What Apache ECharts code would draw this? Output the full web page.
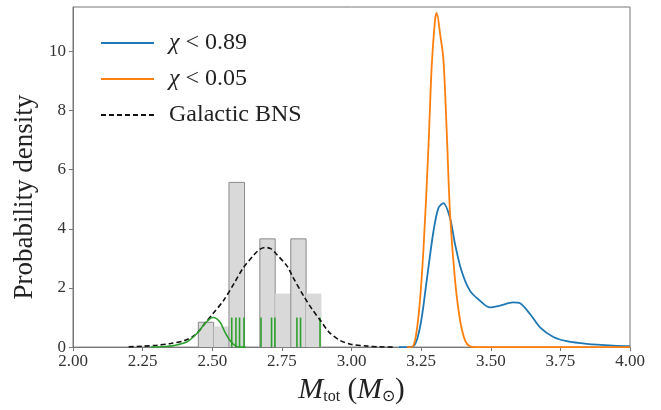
<!DOCTYPE html>
<html>
<head>
<meta charset="utf-8">
<script src="https://cdn.jsdelivr.net/npm/echarts@6/dist/echarts.min.js"></script>
<style>html,body{margin:0;padding:0;background:#fff}#c{width:661px;height:410px}</style>
</head>
<body>
<div id="c"></div>
<script>
// ---- data ----
const xTicks = [2.00, 2.25, 2.50, 2.75, 3.00, 3.25, 3.50, 3.75, 4.00];
const yTicks = [0, 2, 4, 6, 8, 10];

const blueX = [3.17, 3.22, 3.246, 3.27, 3.294, 3.312, 3.33, 3.354, 3.372, 3.395, 3.425, 3.461, 3.497, 3.533, 3.58, 3.605, 3.641, 3.677, 3.725, 3.773, 3.845, 3.94, 4.0];
const blueY = [0, 0.02, 0.67, 2.25, 3.9, 4.7, 4.87, 4.36, 3.47, 2.58, 1.91, 1.57, 1.34, 1.40, 1.51, 1.48, 1.12, 0.67, 0.34, 0.2, 0.11, 0.05, 0.03];

const orangeX = [3.20, 3.22, 3.24, 3.258, 3.276, 3.288, 3.300, 3.306, 3.318, 3.330, 3.342, 3.354, 3.372, 3.390, 3.408, 3.425, 3.45, 3.6, 3.8, 4.0];
const orangeY = [0, 0.02, 1.0, 3.24, 6.7, 9.5, 11.07, 11.3, 10.6, 9.73, 7.27, 4.47, 2.24, 0.9, 0.22, 0.03, 0, 0, 0, 0];

const bnsX = [2.20, 2.25, 2.30, 2.35, 2.40, 2.44, 2.47, 2.50, 2.54, 2.58, 2.61, 2.65, 2.67, 2.69, 2.71, 2.73, 2.77, 2.79, 2.83, 2.86, 2.89, 2.92, 2.96, 3.00, 3.05, 3.10, 3.15];
const bnsY = [0.01, 0.03, 0.06, 0.12, 0.22, 0.42, 0.76, 1.10, 1.57, 2.18, 2.66, 3.12, 3.30, 3.37, 3.33, 3.15, 2.72, 2.36, 1.70, 1.26, 0.88, 0.50, 0.22, 0.09, 0.04, 0.01, 0.0];

const greenX = [2.28, 2.33, 2.36, 2.408, 2.444, 2.468, 2.49, 2.504, 2.528, 2.546, 2.564, 2.582, 2.60, 2.62];
const greenY = [0, 0.02, 0.05, 0.17, 0.45, 0.73, 0.95, 1.0, 0.84, 0.5, 0.22, 0.05, 0.0, 0.0];

const binEdges = [2.450, 2.505, 2.560, 2.616, 2.671, 2.726, 2.782, 2.837, 2.892];
const binHeights = [0.84, 0.70, 5.57, 0, 3.66, 1.81, 3.66, 1.81];
const binOutlined = [1, 0, 1, 0, 1, 0, 1, 0];

const rugX = [2.570, 2.585, 2.598, 2.614, 2.675, 2.713, 2.725, 2.804, 2.817, 2.887];
const rugHeight = [1.0];

const names = ['χ < 0.89', 'χ < 0.05', 'Galactic BNS'];
// ---- chart ----
const pairs = (xs, ys) => xs.map((x, i) => [x, ys[i]]);
const serif = 'Liberation Serif';

const histData = binHeights.map((h, i) => [binEdges[i], binEdges[i + 1], h, binOutlined[i]]);
const rugData = rugX.map(x => [x, rugHeight[0]]);

const chart = echarts.init(document.getElementById('c'), null, {renderer: 'canvas'});
chart.setOption({
  animation: false,
  backgroundColor: '#fff',
  grid: {left: 73, right: 31, top: 7, bottom: 60, show: true, borderColor: '#777', borderWidth: 1, backgroundColor: 'transparent'},
  legend: {
    data: names.map(n => ({name: n})),
    itemStyle: {opacity: 0},
    orient: 'vertical', left: 95, top: 26,
    itemWidth: 53, itemHeight: 20, itemGap: 12,
    formatter: n => n.startsWith('χ') ? '{i|χ}' + n.slice(1) : n,
    textStyle: {fontFamily: serif, fontSize: 24, color: '#222', padding: [0, 0, 0, 10],
      rich: {i: {fontFamily: serif, fontStyle: 'italic', fontSize: 24, color: '#222'}}}
  },
  xAxis: {
    type: 'value', min: 2, max: 4, interval: 0.25,
    name: '{i|M}{s|tot} ({i|M}{s|⊙})', nameLocation: 'middle', nameGap: 22,
    nameTextStyle: {fontFamily: serif, fontSize: 29, color: '#222',
      rich: {i: {fontFamily: serif, fontStyle: 'italic', fontSize: 30, color: '#222'},
             s: {fontFamily: serif, fontSize: 16, color: '#222', padding: [14, 0, 0, 0]}}},
    axisLine: {show: true, lineStyle: {color: '#777'}},
    axisTick: {show: true, inside: false, length: 4, lineStyle: {color: '#777'}},
    axisLabel: {fontFamily: serif, fontSize: 17, color: '#333', margin: 6, formatter: v => v.toFixed(2)},
    splitLine: {show: false}
  },
  yAxis: {
    type: 'value', min: 0, max: 11.5, interval: 2,
    name: 'Probability density', nameLocation: 'middle', nameGap: 33, nameRotate: 90,
    nameTextStyle: {fontFamily: serif, fontSize: 27, color: '#222', padding: [0, 40, 0, 0]},
    axisLine: {show: true, lineStyle: {color: '#777'}},
    axisTick: {show: true, length: 4, lineStyle: {color: '#777'}, customValues: yTicks},
    axisLabel: {fontFamily: serif, fontSize: 17, color: '#333', margin: 7, customValues: yTicks},
    splitLine: {show: false}
  },
  series: [
    {
      type: 'custom', name: 'hist', silent: true, z: 1,
      data: histData,
      renderItem: (params, api) => {
        const p0 = api.coord([api.value(0), 0]);
        const p1 = api.coord([api.value(1), api.value(2)]);
        const children = [{
          type: 'rect',
          shape: {x: p0[0], y: p1[1], width: p1[0] - p0[0], height: p0[1] - p1[1]},
          style: {fill: '#d9d9d9'}
        }];
        if (api.value(3) && api.value(2) > 0) {
          children.push({
            type: 'polyline',
            shape: {points: [[p0[0], p0[1]], [p0[0], p1[1]], [p1[0], p1[1]], [p1[0], p0[1]]]},
            style: {stroke: '#8a8a8a', lineWidth: 1, fill: null}
          });
        }
        return {type: 'group', children};
      }
    },
    {
      type: 'line', name: names[2], data: pairs(bnsX, bnsY), showSymbol: false, symbol: 'none', smooth: 0.3, z: 3,
      lineStyle: {color: '#111', width: 1.6, type: [5, 3]}, itemStyle: {color: '#111'}
    },
    {
      type: 'line', name: 'green', data: pairs(greenX, greenY), showSymbol: false, symbol: 'none', smooth: 0.3, z: 3,
      lineStyle: {color: '#2ca02c', width: 1.6}
    },
    {
      type: 'custom', name: 'rug', silent: true, z: 3,
      data: rugData,
      renderItem: (params, api) => {
        const a = api.coord([api.value(0), 0]);
        const b = api.coord([api.value(0), api.value(1)]);
        return {type: 'line', shape: {x1: a[0], y1: a[1], x2: b[0], y2: b[1]}, style: {stroke: '#2ca02c', lineWidth: 1.6}};
      }
    },
    {
      type: 'line', name: names[0], data: pairs(blueX, blueY), showSymbol: false, symbol: 'none', smooth: 0.3, z: 4,
      lineStyle: {color: '#1f77b4', width: 1.8}, itemStyle: {color: '#1f77b4'}
    },
    {
      type: 'line', name: names[1], data: pairs(orangeX, orangeY), showSymbol: false, symbol: 'none', smooth: 0.3, z: 5,
      lineStyle: {color: '#ff7f0e', width: 1.8}, itemStyle: {color: '#ff7f0e'}
    }
  ]
});
</script>
</body>
</html>
